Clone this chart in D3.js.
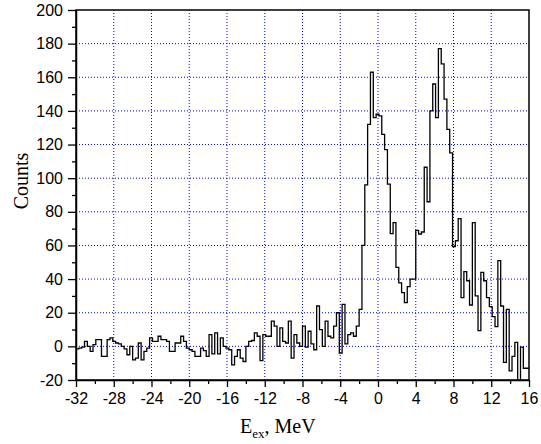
<!DOCTYPE html>
<html>
<head>
<meta charset="utf-8">
<script src="https://cdn.jsdelivr.net/npm/d3@7"></script>
<style>
  body { margin: 0; background: #fff; }
  svg { display: block; }
</style>
</head>
<body>
<svg id="chart" width="541" height="444"></svg>
<script>
// histogram: first bin edge, bin width (MeV) and counts per bin
const firstEdge = -32;
const binWidth = 0.3;
const counts = [
  -1.5, -1, -0.5, 3, 0, -3, 1, 4, 4, -6, -6, 4, 5, 3, 2, 1.5, 0, -1.5, -5, 0,
  -8, -7, 2, -8, -3, -1, 5, 3, 3, 6, 4, 4, 3, -3, -3, 2, 2, 6, 3, -1,
  -2, -3, -6, -6, -1, -2.5, -6, 7, -4.5, 8, -4.5, 5, 0, -1, -2, -11, -6, -2, -7, -9,
  0, 3, 3.5, 8, 6, -8.5, 7, 6, 6, 15, 12, 0, 11, 3, 2, 15, -7, 7, 2, 0,
  12, -0.5, 9, 1.5, -2, 24, 10, 0, 15, 6, 5, 12, 20, -4, 25, 1.5, 7, 8, 6, 12,
  22, 60, 96, 132, 163, 136, 138, 137, 126, 117, 96.5, 67, 73.6, 47, 37.7, 32, 26, 35.5, 40, 40,
  69, 66.8, 68, 106.5, 86, 140, 156, 136, 177, 168, 147, 129, 115, 59.3, 62.8,
  76, 29, 44.4, 39, 24.6, 73.6, 30, 9.4, 44, 39, 29, 23.6, 17.7, 11.7, 51, 24, -9.5, 22, -14.6, -6,
  2.4, -25, -0.5, -13, -13
];

const xTicks = [-32, -28, -24, -20, -16, -12, -8, -4, 0, 4, 8, 12, 16];
const xMinor = [-30, -26, -22, -18, -14, -10, -6, -2, 2, 6, 10, 14];
const yTicks = [-20, 0, 20, 40, 60, 80, 100, 120, 140, 160, 180, 200];
const yMinor = [-10, 10, 30, 50, 70, 90, 110, 130, 150, 170, 190];

const svg = d3.select('#chart');
const width = 541, height = 444;
const margin = { top: 10, right: 12, bottom: 64, left: 76 };

svg.append('rect').attr('width', width).attr('height', height).attr('fill', '#fff');

const x = d3.scaleLinear().domain([-32, 16]).range([margin.left, width - margin.right]);
const y = d3.scaleLinear().domain([-20, 200]).range([height - margin.bottom, margin.top]);

const gridColor = '#0000ff';

// grid
svg.append('g')
  .selectAll('line')
  .data(xTicks.slice(1, -1))
  .join('line')
  .attr('x1', d => x(d)).attr('x2', d => x(d))
  .attr('y1', y(-20)).attr('y2', y(200))
  .attr('stroke', gridColor)
  .attr('stroke-width', 1)
  .attr('stroke-dasharray', '1,2');

svg.append('g')
  .selectAll('line')
  .data(yTicks.slice(1, -1))
  .join('line')
  .attr('x1', x(-32)).attr('x2', x(16))
  .attr('y1', d => y(d)).attr('y2', d => y(d))
  .attr('stroke', gridColor)
  .attr('stroke-width', 1)
  .attr('stroke-dasharray', '1,2');

// clip for the histogram
svg.append('clipPath').attr('id', 'plotClip')
  .append('rect')
  .attr('x', x(-32)).attr('y', y(200))
  .attr('width', x(16) - x(-32)).attr('height', y(-20) - y(200));

const steps = counts.map((c, i) => [firstEdge + i * binWidth, c]);
steps.push([firstEdge + counts.length * binWidth, counts[counts.length - 1]]);

const line = d3.line()
  .x(d => x(d[0]))
  .y(d => y(d[1]))
  .curve(d3.curveStepAfter);

svg.append('path')
  .datum(steps)
  .attr('clip-path', 'url(#plotClip)')
  .attr('d', line)
  .attr('fill', 'none')
  .attr('stroke', '#000')
  .attr('stroke-width', 1.3)
  .attr('stroke-linejoin', 'miter');

// axes (plain hyphen for negatives, like the original)
const tickFont = '"Liberation Sans", Arial, sans-serif';
const plain = d => String(d);

svg.append('g')
  .attr('transform', `translate(0,${y(-20)})`)
  .call(d3.axisBottom(x).tickValues(xTicks).tickFormat(plain).tickSize(7).tickSizeOuter(0).tickPadding(6));
svg.append('g')
  .attr('transform', `translate(0,${y(-20)})`)
  .call(d3.axisBottom(x).tickValues(xMinor).tickSize(4).tickFormat(''))
  .call(g => g.select('.domain').remove());

svg.append('g')
  .attr('transform', `translate(${x(-32)},0)`)
  .call(d3.axisLeft(y).tickValues(yTicks).tickFormat(plain).tickSize(8).tickSizeOuter(0).tickPadding(5));
svg.append('g')
  .attr('transform', `translate(${x(-32)},0)`)
  .call(d3.axisLeft(y).tickValues(yMinor).tickSize(4).tickFormat(''))
  .call(g => g.select('.domain').remove());

svg.selectAll('.tick line').attr('stroke', '#000').attr('stroke-width', 1.3);
svg.selectAll('.domain').attr('stroke', '#000').attr('stroke-width', 1.5);
svg.selectAll('.tick text')
  .attr('fill', '#000')
  .style('font-family', tickFont)
  .style('font-size', '16px');

// frame
svg.append('rect')
  .attr('x', x(-32)).attr('y', y(200))
  .attr('width', x(16) - x(-32)).attr('height', y(-20) - y(200))
  .attr('fill', 'none')
  .attr('stroke', '#000')
  .attr('stroke-width', 1.5);

// axis titles
const titleFont = '"Liberation Serif", "Times New Roman", serif';

const xt = svg.append('text')
  .attr('x', 240).attr('y', 433)
  .style('font-family', titleFont)
  .style('font-size', '20px')
  .attr('fill', '#000');
xt.append('tspan').text('E');
xt.append('tspan').attr('dy', 5).style('font-size', '13px').text('ex');
xt.append('tspan').attr('dy', -5).text(', MeV');

svg.append('text')
  .attr('transform', 'translate(28,181) rotate(-90)')
  .attr('text-anchor', 'middle')
  .style('font-family', titleFont)
  .style('font-size', '20px')
  .attr('fill', '#000')
  .text('Counts');
</script>
</body>
</html>
